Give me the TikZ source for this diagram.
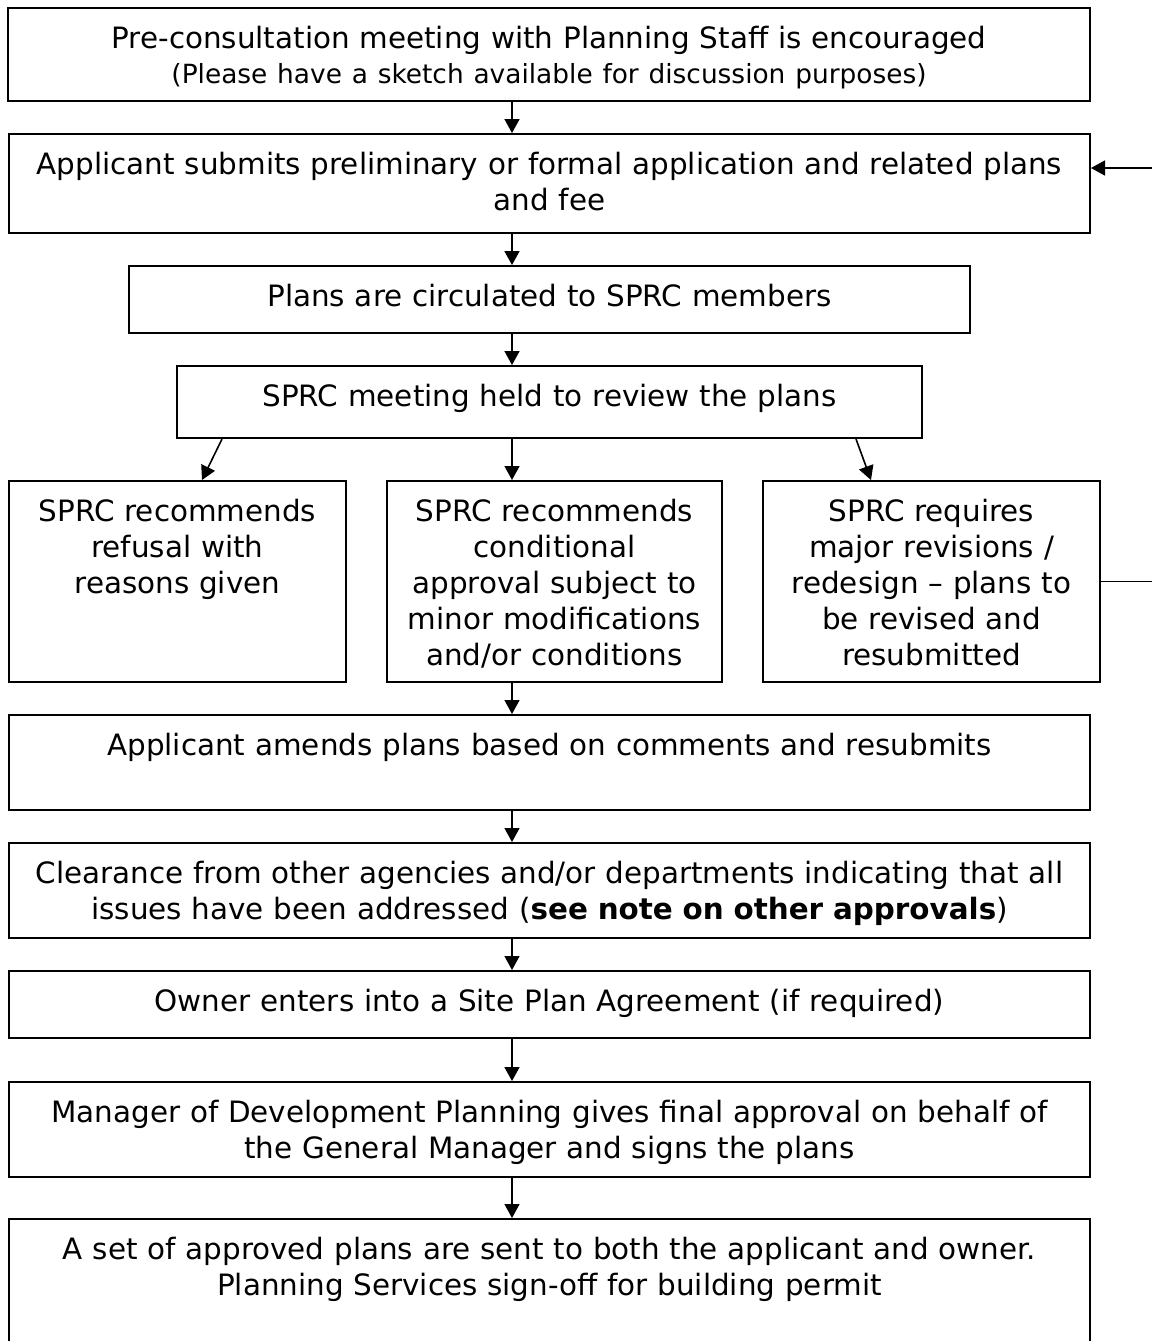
\documentclass[tikz,border=0pt]{standalone}
\usepackage{fontspec}
\setmainfont{DejaVu Sans}
\usetikzlibrary{arrows.meta,calc}
\tikzset{box/.style={draw,line width=1pt,anchor=north,align=center,inner xsep=3pt,inner ysep=0pt,text height=20pt,font=\fontsize{14.7pt}{18pt}\selectfont},arr/.style={-{Triangle[length=7pt,width=7.5pt]},line width=0.8pt}}
\begin{document}
\begin{tikzpicture}[x=0.5pt,y=-0.5pt]
\useasboundingbox (0,0) rectangle (1152,1341);
% main column
\node[box,text width=535pt,text depth=26.5pt] (pre) at (549,7) {Pre-consultation meeting with Planning Staff is encouraged\\[-0.5pt]{\fontsize{13.2pt}{13.2pt}\selectfont (Please have a sketch available for discussion purposes)}};
\node[box,text width=534.5pt,text depth=29.5pt] (submit) at (549.5,133) {Applicant submits preliminary or formal application and related plans\\and fee};
\node[box,text width=414.5pt,text depth=13.5pt] (circ) at (549.5,265) {Plans are circulated to SPRC members};
\node[box,text width=366.5pt,text depth=16pt] (meet) at (549.5,365) {SPRC meeting held to review the plans};
% three outcomes
\node[box,text width=162.5pt,text depth=80.5pt] (refuse) at (177.5,480) {SPRC recommends\\refusal with\\reasons given};
\node[box,text width=161.5pt,text depth=80.5pt] (cond) at (554.5,480) {SPRC recommends\\conditional\\approval subject to\\minor modifications\\and/or conditions};
\node[box,text width=162.5pt,text depth=80.5pt] (revise) at (931.5,480) {SPRC requires\\major revisions /\\redesign – plans to\\be revised and\\resubmitted};
% after approval
\node[box,text width=534.5pt,text depth=27.5pt] (amend) at (549.5,714) {Applicant amends plans based on comments and resubmits};
\node[box,text width=534.5pt,text depth=27.5pt] (clear) at (549.5,842) {Clearance from other agencies and/or departments indicating that all\\issues have been addressed (\textbf{see note on other approvals})};
\node[box,text width=534.5pt,text depth=13.5pt] (agree) at (549.5,970) {Owner enters into a Site Plan Agreement (if required)};
\node[box,text width=534.5pt,text depth=27.5pt] (final) at (549.5,1081) {Manager of Development Planning gives final approval on behalf of\\the General Manager and signs the plans};
\node[box,text width=534.5pt,text depth=51pt] (sent) at (549.5,1218) {A set of approved plans are sent to both the applicant and owner.\\Planning Services sign-off for building permit};
% connectors
\coordinate (spine) at (512,0);
\coordinate (rail) at (1156,0);
\foreach \a/\b in {pre/submit,submit/circ,circ/meet,meet/cond,cond/amend,amend/clear,clear/agree,agree/final,final/sent}
 {\draw[arr] (\a.south -| spine) -- (\b.north -| spine);}
\draw[arr] ($(meet.south west)+(46,0)$) -- ($(refuse.north west)+(194,0)$);
\draw[arr] ($(meet.south east)+(-67,0)$) -- ($(revise.north west)+(109,0)$);
\coordinate (back) at ($(submit.north east)+(0,35)$);
\draw[arr] (revise.east) -- (revise.east -| rail) -- (rail |- back) -- (back);
\end{tikzpicture}
\end{document}
